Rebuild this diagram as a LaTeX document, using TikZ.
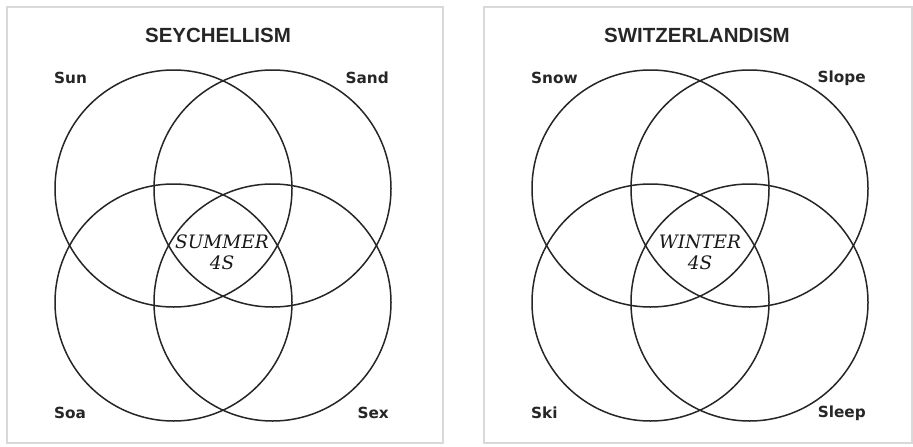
\documentclass[tikz,border=0pt]{standalone}
\usepackage{fontspec}
\newfontfamily\labelfont{DejaVu Sans}
\newfontfamily\titlefont{Liberation Sans}
\newfontfamily\centerfont{DejaVu Serif}
\begin{document}
\begin{tikzpicture}[x=1pt,y=-1pt,
  panel/.style={draw=black!15,line width=1.5pt},
  venn/.style={circle,draw=black!85,line width=1.5pt,minimum size=237pt,inner sep=0pt},
  ttl/.style={font=\titlefont\bfseries\fontsize{20.5}{24}\selectfont,text=black!85,inner sep=0pt},
  lbl/.style={font=\labelfont\bfseries\fontsize{15.3}{18}\selectfont,text=black!85,inner sep=0pt},
  mid/.style={font=\centerfont\itshape\fontsize{18.5}{21}\selectfont,text=black!90,align=center,inner sep=0pt}]
\useasboundingbox (0,0) rectangle (913,447);
\fill[white] (0,0) rectangle (913,447);
% panels
\draw[panel] (7,7) rectangle (443,443);
\draw[panel] (484,7) rectangle (912,443);
% left diagram
\node[ttl] (t1) at (218,35) {SEYCHELLISM};
\node[venn] (a1) at (173.5,188.5) {};
\node[venn] (a2) at (272.5,188.5) {};
\node[venn] (a3) at (173.5,302.5) {};
\node[venn] (a4) at (272.5,302.5) {};
\node[lbl,anchor=west] (l1) at (54,78) {Sun};
\node[lbl,anchor=east] (l2) at (389,78) {Sand};
\node[lbl,anchor=west] (l3) at (54,413) {Soa};
\node[lbl,anchor=east] (l4) at (389,413) {Sex};
\node[mid] (m1) at (222,252) {SUMMER\\4S};
% right diagram
\node[ttl] (t2) at (697,35) {SWITZERLANDISM};
\node[venn] (b1) at (650.5,188.5) {};
\node[venn] (b2) at (749.5,188.5) {};
\node[venn] (b3) at (650.5,302.5) {};
\node[venn] (b4) at (749.5,302.5) {};
\node[lbl,anchor=west] (r1) at (531,78) {Snow};
\node[lbl,anchor=east] (r2) at (866,78) {Slope};
\node[lbl,anchor=west] (r3) at (531,413) {Ski};
\node[lbl,anchor=east] (r4) at (866,413) {Sleep};
\node[mid] (m2) at (700,252) {WINTER\\4S};
\end{tikzpicture}
\end{document}
